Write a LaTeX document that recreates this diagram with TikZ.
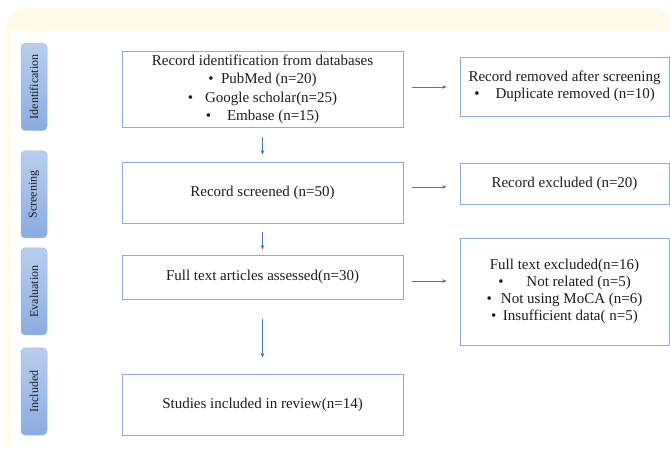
\documentclass[tikz,border=0pt]{standalone}
\usepackage{fontspec}
\setmainfont{Liberation Serif}
\usetikzlibrary{arrows.meta, positioning, calc}

\definecolor{panel}{RGB}{255,251,232}
\definecolor{boxline}{RGB}{143,170,220}
\definecolor{arrowblue}{RGB}{68,114,196}
\definecolor{tabtop}{RGB}{186,206,238}
\definecolor{tabbot}{RGB}{138,172,224}
\definecolor{tabline}{RGB}{160,188,230}
\definecolor{ink}{RGB}{30,30,30}

\newcommand{\bul}[1]{\textbullet\hspace{#1pt}}

\begin{document}
\begin{tikzpicture}[x=1pt, y=-1pt,
        stage/.style={rectangle, draw=boxline, line width=0.8pt, fill=white, minimum width=281pt, align=center, text=ink, font=\fontsize{15}{17.5}\selectfont, inner sep=2pt},
        side/.style={stage, minimum width=209pt},
        tab/.style={rectangle, rounded corners=4pt, draw=tabline, line width=0.5pt, top color=tabtop, bottom color=tabbot, minimum width=26pt, minimum height=87pt},
        tabtext/.style={rotate=90, font=\fontsize{12}{14}\selectfont, text=ink, inner sep=0pt},
        arrow/.style={-{Stealth[length=4.5pt, width=3.5pt]}, line width=0.6pt, draw=arrowblue}
    ]
        \useasboundingbox (0,0) rectangle (670,449);

        % Panel behind the chart
        \fill[panel, rounded corners=20pt] (6,8) rectangle (671,480);
        \fill[white] (10,31) rectangle (680,480);

        % Stage tabs on the left
        \node[tab] (idtab) at (34,87) {};
        \node[tabtext] (idtext) at (idtab) {Identification};
        \node[tab] (scrtab) at (34,194.5) {};
        \node[tabtext] (scrtext) at (scrtab) {Screening};
        \node[tab] (evtab) at (34,291.5) {};
        \node[tabtext] (evtext) at (evtab) {Evaluation};
        \node[tab] (inctab) at (34,391.5) {};
        \node[tabtext] (inctext) at (inctab) {Included};

        % Main column
        \node[stage, minimum height=75.5pt, font=\fontsize{15}{18.5}\selectfont] (ident) at (262.5,89.25) {Record identification from databases\\ \bul{7.4}PubMed (n=20)\\ \bul{12}Google scholar(n=25)\\ \bul{16}Embase (n=15)};
        \node[stage, minimum height=61pt] (screen) at (262.5,192.5) {Record screened (n=50)};
        \node[stage, minimum height=44pt] (assess) at (262.5,277) {Full text articles assessed(n=30)};
        \node[stage, minimum height=61pt] (incl) at (262.5,404.5) {Studies included in review(n=14)};

        % Right column
        \node[side, minimum height=59pt] (removed) at (564.5,86.5) {Record removed after screening\\ \bul{16}Duplicate removed (n=10)};
        \node[side, minimum height=41pt] (excl) at (564.5,183.5) {Record excluded (n=20)};
        \node[side, minimum height=107pt, font=\fontsize{15}{17}\selectfont] (ftexcl) at (564.5,291.5) {Full text excluded(n=16)\\ \bul{23}Not related (n=5)\\ \bul{9}Not using MoCA (n=6)\\ \bul{6.5}Insufficient data( n=5)};

        % Flow down
        \draw[arrow, shorten <=10pt, shorten >=7pt] (ident) -- (screen);
        \draw[arrow, shorten <=9pt, shorten >=5pt] (screen) -- (assess);
        \draw[arrow, shorten <=20pt, shorten >=16pt] (assess) -- (incl);

        % Flow right
        \draw[arrow, shorten <=9pt, shorten >=13pt] ([yshift=2.25pt]ident.east) -- ([yshift=2.25pt]ident.east -| removed.west);
        \draw[arrow, shorten <=9pt, shorten >=13pt] ([yshift=5.5pt]screen.east) -- ([yshift=5.5pt]screen.east -| excl.west);
        \draw[arrow, shorten <=9pt, shorten >=13pt] ([yshift=-4pt]assess.east) -- ([yshift=-4pt]assess.east -| ftexcl.west);
    \end{tikzpicture}
\end{document}
